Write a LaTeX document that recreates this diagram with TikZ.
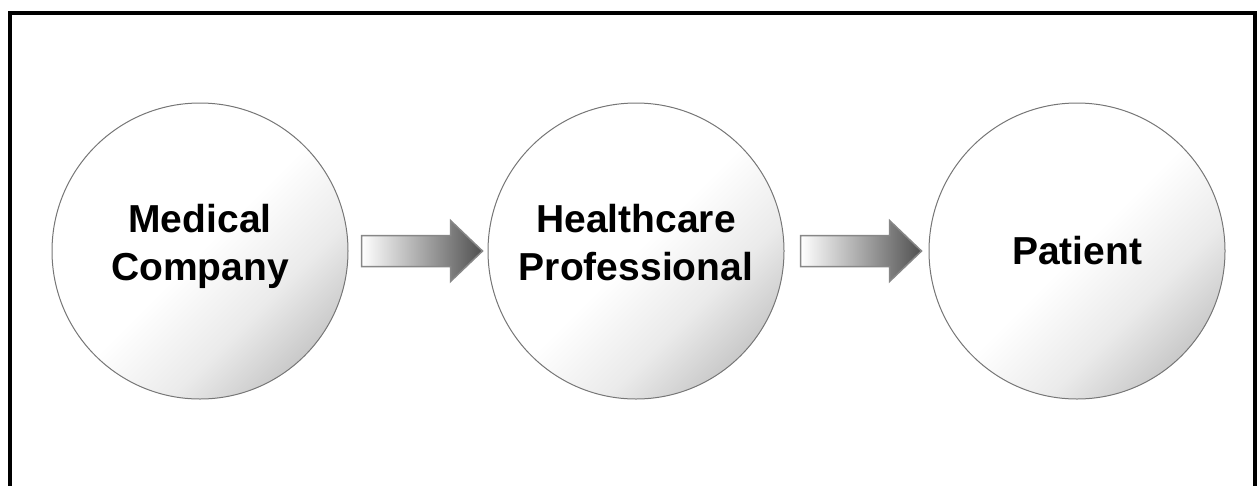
\documentclass[tikz,border=0pt]{standalone}
\usepackage{fontspec}
\setmainfont{Liberation Sans}
\usepackage{tikz}
\usetikzlibrary{positioning,calc}

\pgfdeclareverticalshading{stageshade}{100bp}{color(0bp)=(black!24); color(25bp)=(black!21); color(36bp)=(black!8); color(50bp)=(white); color(100bp)=(white)}

\begin{document}
\begin{tikzpicture}[x=1pt,y=1pt,yscale=-1,xscale=1,
  stage/.style={circle,draw={rgb,255:red,118;green,118;blue,118},line width=1,
    minimum size=296pt,inner sep=0pt,shading=stageshade,shading angle=45,
    font=\fontsize{39}{48}\selectfont\bfseries,align=center},
  flowarrow/.style={draw={rgb,255:red,135;green,135;blue,135},line width=1.5,line join=miter,
    left color=white,right color={rgb,255:red,80;green,80;blue,80}}]
\useasboundingbox (0,0) rectangle (1258,485);

%Shape: Frame (bottom edge cut off)
\draw [line width=4] (10,490) -- (10,13) -- (1254.5,13) -- (1254.5,490) ;

%Shape: Circles
\node [stage,text depth=18pt] (medco) at (200,251) {Medical\\Company};
\node [stage,text depth=18pt,right=139pt of medco] (hcpro) {Healthcare\\Professional};
\node [stage,right=144pt of hcpro] (patient) {Patient};

%Shape: Right Arrows
\coordinate (arrA) at ($(medco.east)+(13,0)$);
\coordinate (arrB) at ($(hcpro.east)+(16,0)$);
\path [flowarrow] (arrA) ++(0,-15.5) -- ++(89,0) -- ++(0,-15) -- ++(32,30.5) -- ++(-32,30.5) -- ++(0,-15) -- ++(-89,0) -- cycle ;
\path [flowarrow] (arrB) ++(0,-15.5) -- ++(89,0) -- ++(0,-15) -- ++(32,30.5) -- ++(-32,30.5) -- ++(0,-15) -- ++(-89,0) -- cycle ;

\end{tikzpicture}
\end{document}
